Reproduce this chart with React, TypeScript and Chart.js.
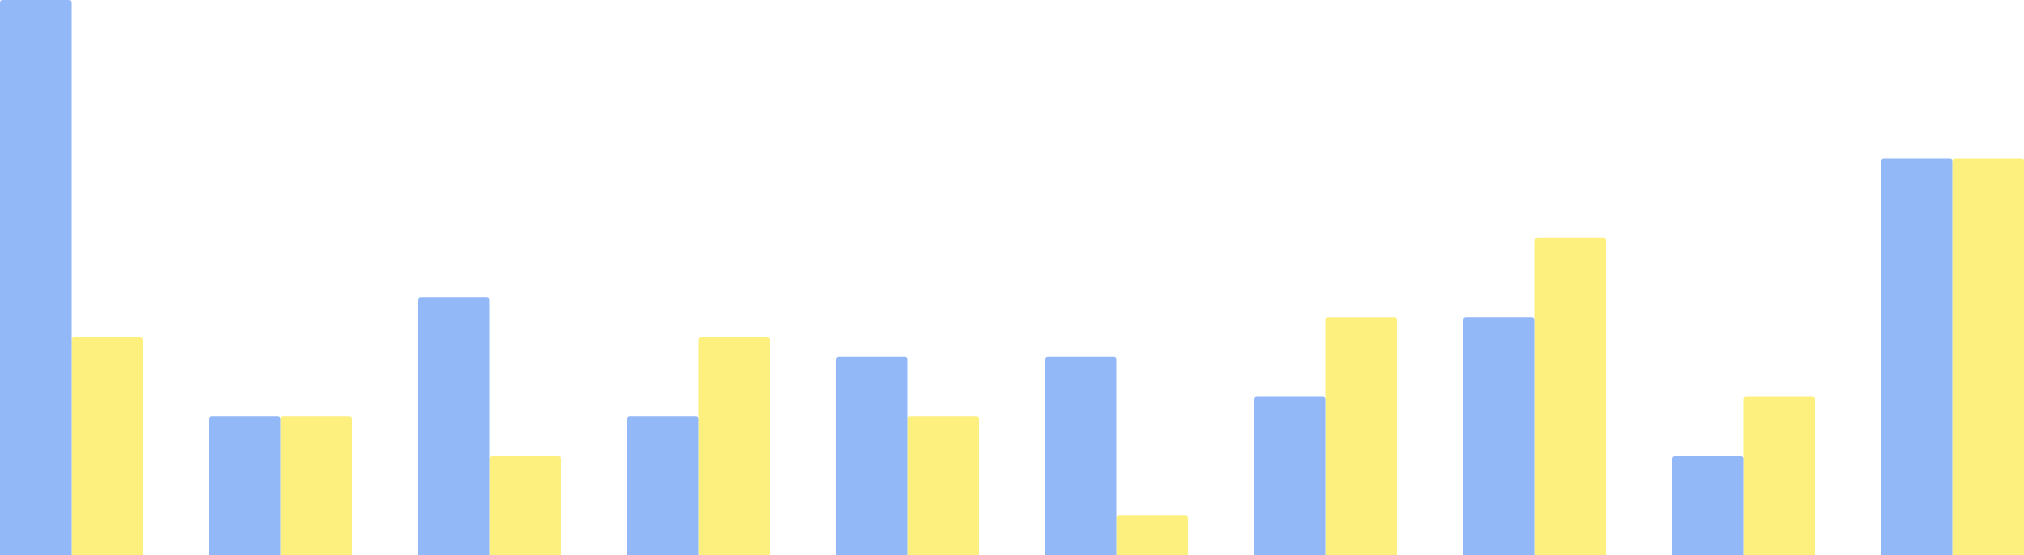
import React, { useEffect, useRef } from "react";
import { Chart, registerables } from "chart.js";

Chart.register(...registerables);

const categories = ["1", "2", "3", "4", "5", "6", "7", "8", "9", "10"];
const seriesA = [28, 7, 13, 7, 10, 10, 8, 12, 5, 20];
const seriesB = [11, 7, 5, 11, 7, 2, 12, 16, 8, 20];
const yMax = 28;

export default function App() {
  const ref = useRef<HTMLCanvasElement | null>(null);

  useEffect(() => {
    if (!ref.current) return;
    const chart = new Chart(ref.current, {
      type: "bar",
      data: {
        labels: categories,
        datasets: [
          {
            label: "A",
            data: seriesA,
            backgroundColor: "#93B8F8",
            borderRadius: 3,
            borderSkipped: "start",
            barPercentage: 1,
            categoryPercentage: 143 / 209,
          },
          {
            label: "B",
            data: seriesB,
            backgroundColor: "#FEF07F",
            borderRadius: 3,
            borderSkipped: "start",
            barPercentage: 1,
            categoryPercentage: 143 / 209,
          },
        ],
      },
      options: {
        animation: false,
        responsive: false,
        maintainAspectRatio: false,
        layout: { padding: 0 },
        plugins: { legend: { display: false }, tooltip: { enabled: false } },
        scales: {
          x: { display: false },
          y: { display: false, min: 0, max: yMax },
        },
      },
    });
    return () => chart.destroy();
  }, []);

  return (
    <div style={{ position: "fixed", left: 0, top: 0, width: 2024, height: 555, overflow: "hidden", background: "#fff" }}>
      <div style={{ position: "absolute", left: -33, top: 0, width: 2090, height: 555 }}>
        <canvas ref={ref} width={2090} height={555} style={{ display: "block" }} />
      </div>
    </div>
  );
}
